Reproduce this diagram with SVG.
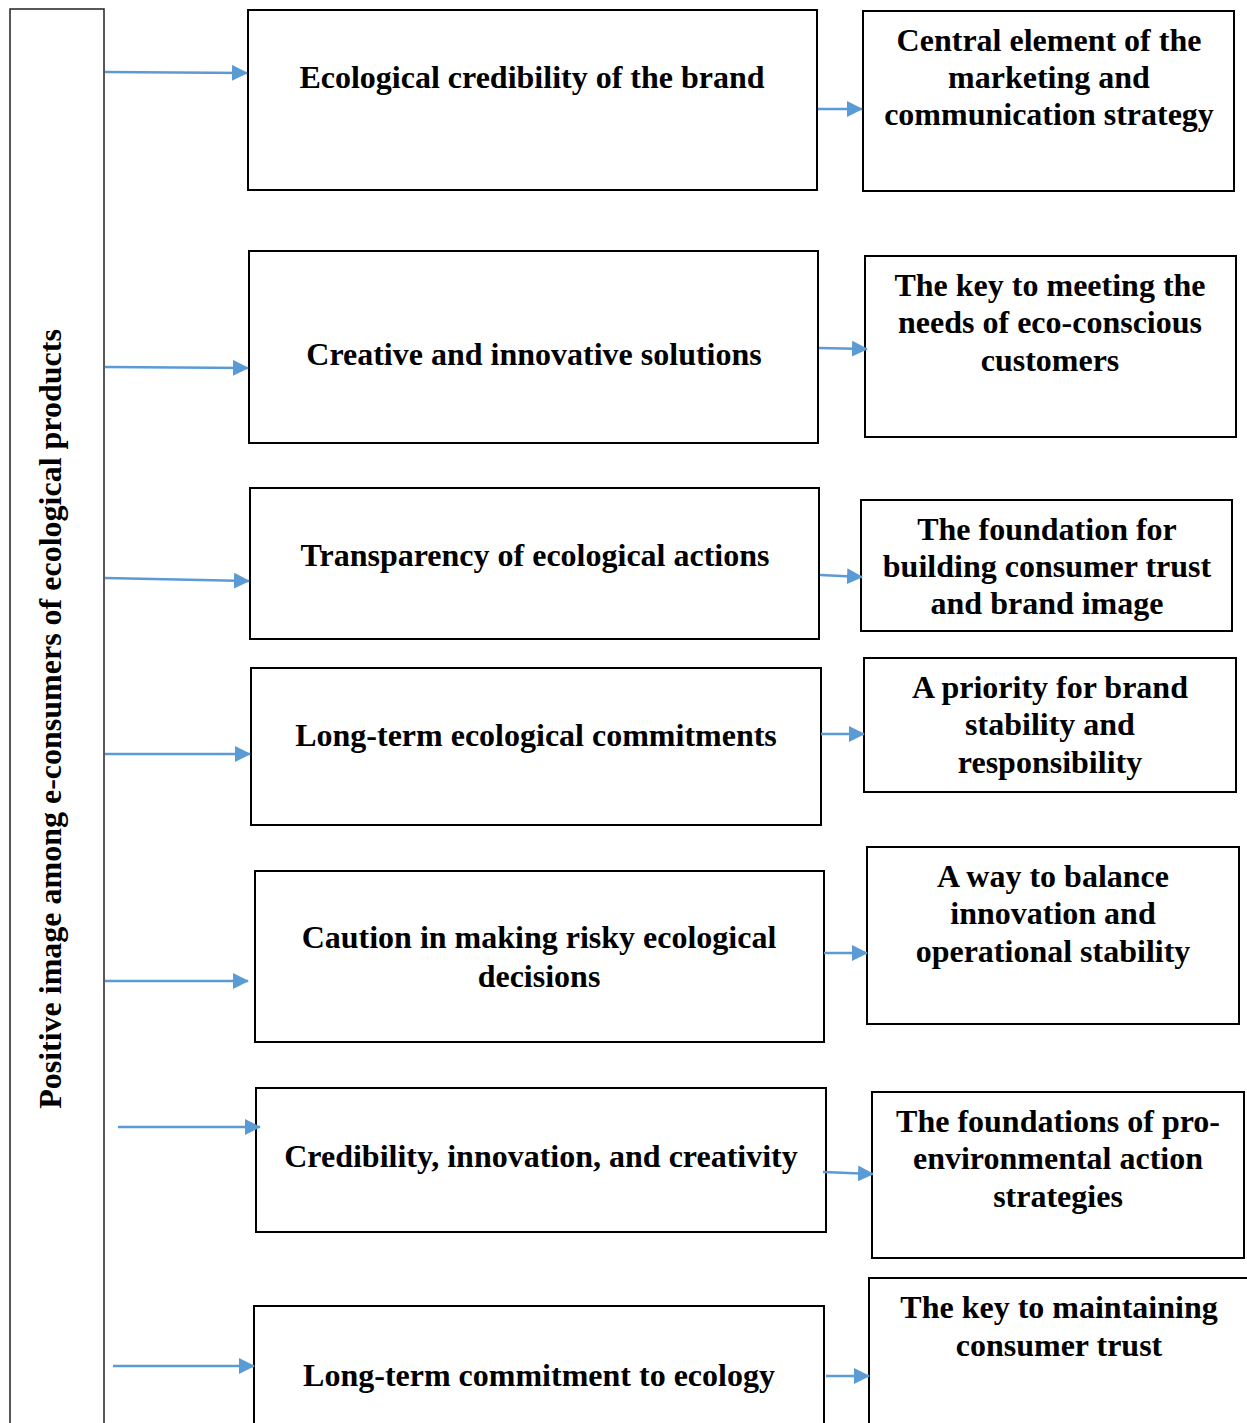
<svg xmlns="http://www.w3.org/2000/svg" width="1247" height="1423" viewBox="0 0 1247 1423">
<style>
.box{fill:#fff;stroke:#000;stroke-width:2}
.bar{fill:#fff;stroke:#222;stroke-width:1.5}
.t{font-family:"Liberation Serif","Times New Roman",serif;font-weight:bold;font-size:32px;fill:#000;text-anchor:middle}
.c{stroke:#5b9bd5;stroke-width:2.5;fill:none;marker-end:url(#ah)}
</style>
<defs>
<marker id="ah" markerUnits="userSpaceOnUse" markerWidth="16" markerHeight="16" refX="15" refY="8" orient="auto">
<path d="M0,0 L16,8 L0,16 Z" fill="#5b9bd5"/>
</marker>
</defs>
<rect width="1247" height="1423" fill="#fff"/>
<g id="bar">
<rect class="bar" x="10" y="9" width="94" height="1430"/>
<text class="t" transform="translate(61,719) rotate(-90)">Positive image among e-consumers of ecological products</text>
</g>
<g id="n1"><rect class="box" x="248" y="10" width="569" height="180"/><text class="t" x="532" y="88">Ecological credibility of the brand</text></g>
<g id="r1"><rect class="box" x="863" y="11" width="371" height="180"/><text class="t" x="1049" y="51">Central element of the</text><text class="t" x="1049" y="88">marketing and</text><text class="t" x="1049" y="125">communication strategy</text></g>
<g id="n2"><rect class="box" x="249" y="251" width="569" height="192"/><text class="t" x="534" y="365">Creative and innovative solutions</text></g>
<g id="r2"><rect class="box" x="865" y="256" width="371" height="181"/><text class="t" x="1050" y="296">The key to meeting the</text><text class="t" x="1050" y="333">needs of eco-conscious</text><text class="t" x="1050" y="371">customers</text></g>
<g id="n3"><rect class="box" x="250" y="488" width="569" height="151"/><text class="t" x="535" y="566">Transparency of ecological actions</text></g>
<g id="r3"><rect class="box" x="861" y="500" width="371" height="131"/><text class="t" x="1047" y="540">The foundation for</text><text class="t" x="1047" y="577">building consumer trust</text><text class="t" x="1047" y="614">and brand image</text></g>
<g id="n4"><rect class="box" x="251" y="668" width="570" height="157"/><text class="t" x="536" y="746">Long-term ecological commitments</text></g>
<g id="r4"><rect class="box" x="864" y="658" width="372" height="134"/><text class="t" x="1050" y="698">A priority for brand</text><text class="t" x="1050" y="735">stability and</text><text class="t" x="1050" y="773">responsibility</text></g>
<g id="n5"><rect class="box" x="255" y="871" width="569" height="171"/><text class="t" x="539" y="948">Caution in making risky ecological</text><text class="t" x="539" y="987">decisions</text></g>
<g id="r5"><rect class="box" x="867" y="847" width="372" height="177"/><text class="t" x="1053" y="887">A way to balance</text><text class="t" x="1053" y="924">innovation and</text><text class="t" x="1053" y="962">operational stability</text></g>
<g id="n6"><rect class="box" x="256" y="1088" width="570" height="144"/><text class="t" x="541" y="1167">Credibility, innovation, and creativity</text></g>
<g id="r6"><rect class="box" x="872" y="1092" width="372" height="166"/><text class="t" x="1058" y="1132">The foundations of pro-</text><text class="t" x="1058" y="1169">environmental action</text><text class="t" x="1058" y="1207">strategies</text></g>
<g id="n7"><rect class="box" x="254" y="1306" width="570" height="140"/><text class="t" x="539" y="1386">Long-term commitment to ecology</text></g>
<g id="r7"><rect class="box" x="869" y="1278" width="390" height="170"/><text class="t" x="1059" y="1318">The key to maintaining</text><text class="t" x="1059" y="1356">consumer trust</text></g>
<g id="connectors">
<line class="c" x1="105" y1="72" x2="247" y2="73"/>
<line class="c" x1="818" y1="109" x2="862" y2="109"/>
<line class="c" x1="105" y1="367" x2="248" y2="368"/>
<line class="c" x1="819" y1="348" x2="867" y2="349"/>
<line class="c" x1="105" y1="578" x2="249" y2="581"/>
<line class="c" x1="820" y1="575" x2="862" y2="577"/>
<line class="c" x1="105" y1="754" x2="250" y2="754"/>
<line class="c" x1="821" y1="734" x2="864" y2="734"/>
<line class="c" x1="105" y1="981" x2="248" y2="981"/>
<line class="c" x1="824" y1="953" x2="867" y2="953"/>
<line class="c" x1="118" y1="1127" x2="260" y2="1127"/>
<line class="c" x1="823" y1="1172" x2="873" y2="1174"/>
<line class="c" x1="113" y1="1366" x2="254" y2="1366"/>
<line class="c" x1="826" y1="1376" x2="869" y2="1376"/>
</g>
</svg>
